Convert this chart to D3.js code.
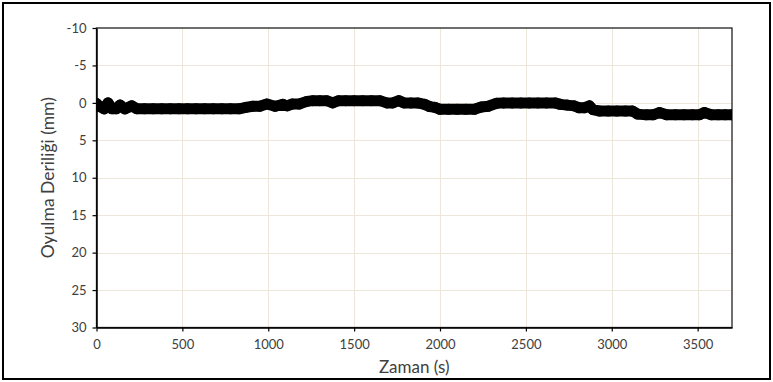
<!DOCTYPE html>
<html>
<head>
<meta charset="utf-8">
<script src="https://cdn.jsdelivr.net/npm/d3@7"></script>
<style>
  html, body { margin: 0; padding: 0; background: #fff; }
  svg { display: block; font-family: Lato, "Open Sans", sans-serif; }
</style>
</head>
<body>
<svg id="chart" width="773" height="382"></svg>
<script>
// Measurement time (s)
const timeSec = [0, 20, 45, 67, 90, 115, 137, 165, 205, 235, 280, 330, 380, 430, 480, 530, 580, 630, 680, 730,
  780, 830, 870, 910, 950, 992, 1040, 1085, 1110, 1140, 1180, 1225, 1260, 1300, 1340, 1375, 1410, 1450, 1500, 1550,
  1600, 1650, 1690, 1725, 1760, 1790, 1830, 1870, 1910, 1940, 1970, 2000, 2050, 2100, 2150, 2200, 2240, 2280, 2330, 2370,
  2420, 2470, 2520, 2570, 2620, 2670, 2700, 2740, 2780, 2810, 2840, 2870, 2890, 2930, 2980, 3030, 3080, 3120, 3150, 3200,
  3240, 3277, 3320, 3370, 3420, 3470, 3510, 3539, 3580, 3620, 3660, 3700];
// Scour depth (mm), positive downward
const depthMm = [0.1, 0.5, 0.8, 0.0, 0.8, 0.8, 0.3, 0.8, 0.4, 0.8, 0.8, 0.8, 0.8, 0.8, 0.8, 0.8, 0.8, 0.8, 0.8, 0.8,
  0.8, 0.8, 0.6, 0.45, 0.45, 0.15, 0.45, 0.2, 0.4, 0.15, 0.15, -0.2, -0.3, -0.3, -0.3, 0.0, -0.3, -0.3, -0.3, -0.3,
  -0.3, -0.3, 0.0, 0.0, -0.3, 0.0, 0.0, 0.0, 0.2, 0.5, 0.6, 0.85, 0.85, 0.85, 0.85, 0.85, 0.55, 0.45, 0.05, 0.0,
  0.0, 0.0, 0.0, 0.0, 0.0, 0.0, 0.2, 0.3, 0.4, 0.65, 0.65, 0.4, 0.9, 1.1, 1.1, 1.1, 1.1, 1.1, 1.5, 1.6,
  1.6, 1.3, 1.6, 1.6, 1.6, 1.6, 1.6, 1.3, 1.6, 1.6, 1.6, 1.6];

const xTicks = [0, 500, 1000, 1500, 2000, 2500, 3000, 3500];
const yTicks = [-10, -5, 0, 5, 10, 15, 20, 25, 30];
const xTitle = "Zaman (s)";
const yTitle = "Oyulma Deriliği (mm)";

const points = timeSec.map((t, i) => ({ t, d: depthMm[i] }));

const svg = d3.select("#chart");
const plot = { left: 96.5, right: 732, top: 28, bottom: 327.5 };

const x = d3.scaleLinear().domain([0, 3700]).range([plot.left, plot.right]);
const y = d3.scaleLinear().domain([-10, 30]).range([plot.top, plot.bottom]);

// Outer chart frame
svg.append("rect")
  .attr("x", 3).attr("y", 3).attr("width", 767).attr("height", 376)
  .attr("fill", "#fff").attr("stroke", "#000").attr("stroke-width", 2);

// Gridlines
const grid = svg.append("g").attr("stroke", "#ece7da").attr("stroke-width", 1);
grid.selectAll(".gx").data(xTicks.slice(1)).join("line")
  .attr("x1", d => Math.round(x(d)) + 0.5).attr("x2", d => Math.round(x(d)) + 0.5)
  .attr("y1", plot.top).attr("y2", plot.bottom);
grid.selectAll(".gy").data(yTicks.slice(1, -1)).join("line")
  .attr("y1", d => Math.round(y(d)) + 0.5).attr("y2", d => Math.round(y(d)) + 0.5)
  .attr("x1", plot.left).attr("x2", plot.right);

// Plot area border
svg.append("rect")
  .attr("x", plot.left).attr("y", plot.top)
  .attr("width", plot.right - plot.left).attr("height", plot.bottom - plot.top)
  .attr("fill", "none").attr("stroke", "#222").attr("stroke-width", 1.3);

// Data series, clipped to the plot area
svg.append("clipPath").attr("id", "clip").append("rect")
  .attr("x", plot.left).attr("y", plot.top - 10)
  .attr("width", plot.right - plot.left).attr("height", plot.bottom - plot.top + 20);

const series = svg.append("g").attr("clip-path", "url(#clip)");
series.append("path")
  .datum(points)
  .attr("fill", "none").attr("stroke", "#000").attr("stroke-width", 11)
  .attr("stroke-linejoin", "round").attr("stroke-linecap", "round")
  .attr("d", d3.line().x(d => x(d.t)).y(d => y(d.d)));
series.selectAll("circle").data(points).join("circle")
  .attr("cx", d => x(d.t)).attr("cy", d => y(d.d)).attr("r", 5.5).attr("fill", "#000");

// Axes (plain numbers, hyphen minus, no thousands separator)
const fmt = d => String(d);
const xAxis = d3.axisBottom(x).tickValues(xTicks).tickFormat(fmt).tickSize(4).tickSizeOuter(0).tickPadding(8);
const yAxis = d3.axisLeft(y).tickValues(yTicks).tickFormat(fmt).tickSize(4).tickSizeOuter(0).tickPadding(6);

const gx = svg.append("g").attr("transform", `translate(0,${plot.bottom})`).call(xAxis);
const gy = svg.append("g").attr("transform", `translate(${plot.left},0)`).call(yAxis);
[gx, gy].forEach(g => {
  g.select(".domain").attr("stroke", "#000").attr("stroke-width", 1.5);
  g.selectAll(".tick line").attr("stroke", "#000").attr("stroke-width", 1.2);
  g.selectAll(".tick text").attr("fill", "#404040")
    .style("font-size", "13px").style("font-family", "Lato, 'Open Sans', sans-serif");
});

// Axis titles
svg.append("text")
  .attr("x", (plot.left + plot.right) / 2).attr("y", 373)
  .attr("text-anchor", "middle").attr("fill", "#404040")
  .style("font-size", "17px").text(xTitle);
svg.append("text")
  .attr("transform", `translate(54,${(plot.top + plot.bottom) / 2}) rotate(-90)`)
  .attr("text-anchor", "middle").attr("fill", "#404040")
  .style("font-size", "17.5px").text(yTitle);
</script>
</body>
</html>
